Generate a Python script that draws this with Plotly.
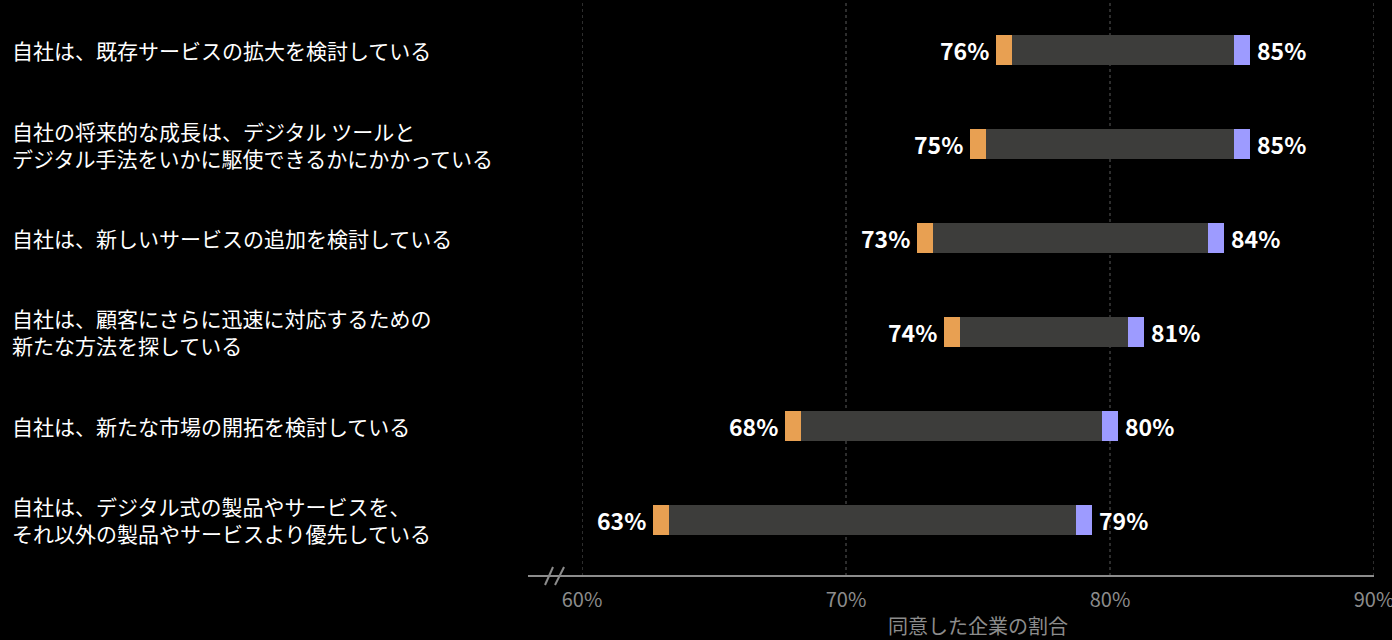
import plotly.graph_objects as go

categories = [
    "自社は、既存サービスの拡大を検討している",
    "自社の将来的な成長は、デジタル ツールと<br>デジタル手法をいかに駆使できるかにかかっている",
    "自社は、新しいサービスの追加を検討している",
    "自社は、顧客にさらに迅速に対応するための<br>新たな方法を探している",
    "自社は、新たな市場の開拓を検討している",
    "自社は、デジタル式の製品やサービスを、<br>それ以外の製品やサービスより優先している",
]
low_values = [76, 75, 73, 74, 68, 63]
high_values = [85, 85, 84, 81, 80, 79]
tick_values = [60, 70, 80, 90]
tick_labels = ["60%", "70%", "80%", "90%"]
axis_title = "同意した企業の割合"

FONT = "Noto Sans CJK JP, Noto Sans, sans-serif"
ORANGE = "#E8A052"
PURPLE = "#9D9BFF"
DARK = "#3D3D3B"
GRAY = "#8C8C8C"

cap = 0.3  # half width of end caps, in percent units
bar_w = 0.32
ypos = list(range(len(categories)))

fig = go.Figure()
fig.add_trace(go.Bar(
    y=ypos, x=[h - l for l, h in zip(low_values, high_values)], base=low_values,
    orientation="h", width=bar_w, marker=dict(color=DARK, line=dict(width=0)),
    hoverinfo="skip", showlegend=False))
fig.add_trace(go.Bar(
    y=ypos, x=[2 * cap] * len(low_values), base=[v - cap for v in low_values],
    orientation="h", width=bar_w, marker=dict(color=ORANGE, line=dict(width=0)),
    hoverinfo="skip", showlegend=False))
fig.add_trace(go.Bar(
    y=ypos, x=[2 * cap] * len(high_values), base=[v - cap for v in high_values],
    orientation="h", width=bar_w, marker=dict(color=PURPLE, line=dict(width=0)),
    hoverinfo="skip", showlegend=False))

annotations = []
for i, (cat, lo, hi) in enumerate(zip(categories, low_values, high_values)):
    annotations.append(dict(
        x=-0.7222, xref="paper", y=i, yref="y", text=cat, showarrow=False,
        xanchor="left", align="left", yanchor="middle",
        font=dict(family=FONT, size=21, color="#FFFFFF")))
    annotations.append(dict(
        x=lo - cap, xref="x", y=i, yref="y", text=f"<b>{lo}%</b>", showarrow=False,
        xanchor="right", yanchor="middle", xshift=-5,
        font=dict(family=FONT, size=23, color="#FFFFFF")))
    annotations.append(dict(
        x=hi + cap, xref="x", y=i, yref="y", text=f"<b>{hi}%</b>", showarrow=False,
        xanchor="left", yanchor="middle", xshift=5,
        font=dict(family=FONT, size=23, color="#FFFFFF")))

shapes = []
# vertical dotted gridlines
for t in tick_values:
    shapes.append(dict(type="line", xref="x", yref="paper", x0=t, x1=t, y0=0, y1=1,
                       line=dict(color="#5A5A5A", width=1, dash="dot"), layer="below"))
# axis line with break
shapes.append(dict(type="line", xref="paper", yref="paper", x0=-0.0682, x1=1, y0=0, y1=0,
                   line=dict(color=GRAY, width=2)))
for x0, x1 in [(-0.0467, -0.0366), (-0.0341, -0.0227)]:
    shapes.append(dict(type="line", xref="paper", yref="paper", x0=x0, x1=x1,
                       y0=-0.0156, y1=0.0156, line=dict(color=GRAY, width=2)))

fig.update_layout(
    width=1392, height=640,
    paper_bgcolor="#000000", plot_bgcolor="#000000",
    margin=dict(l=582, r=18, t=0, b=64),
    barmode="overlay", bargap=0,
    annotations=annotations, shapes=shapes,
    font=dict(family=FONT),
    xaxis=dict(range=[60, 90], tickvals=tick_values, ticktext=tick_labels,
               showgrid=False, zeroline=False, showline=False, ticks="",
               ticklabeloverflow="allow", ticklabelstandoff=10,
               tickfont=dict(family=FONT, size=20, color=GRAY),
               title=dict(text=axis_title, font=dict(family=FONT, size=20, color=GRAY), standoff=8),
               fixedrange=True, automargin=False),
    yaxis=dict(range=[5.596, -0.532], showticklabels=False, showgrid=False,
               zeroline=False, showline=False, ticks="", fixedrange=True),
)

fig.write_html("out.html", config={"displayModeBar": False})
